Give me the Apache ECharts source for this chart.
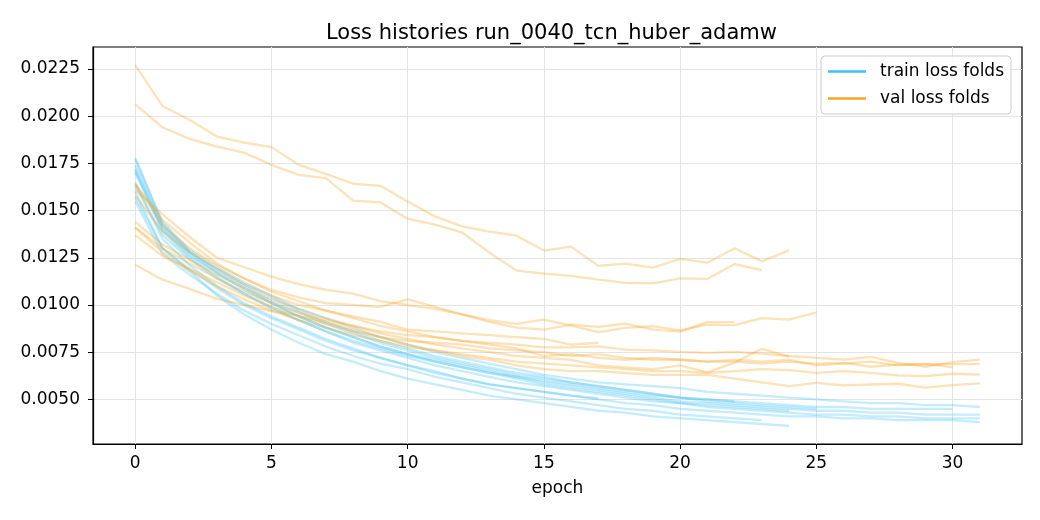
<!DOCTYPE html>
<html>
<head>
<meta charset="utf-8">
<script src="https://cdn.jsdelivr.net/npm/echarts@6/dist/echarts.min.js"></script>
<style>
html,body{margin:0;padding:0;background:#fff;}
#chart{width:1040px;height:520px;}
</style>
</head>
<body>
<div id="chart"></div>
<script>
// ---- data (one array per fold; index = epoch) ----
const trainFold1 = [0.0157,0.0130,0.0118,0.0105,0.0095,0.0087,0.0080,0.0074,0.0070,0.0065,0.0061,0.0058,0.0055,0.0052,0.0050,0.0048,0.0046,0.0044,0.0043,0.0041,0.0040,0.0039,0.0038,0.0037,0.0036];
const valFold1   = [0.0227,0.02054,0.0198,0.01892,0.0186,0.01836,0.01742,0.01694,0.01642,0.01631,0.01548,0.01469,0.01416,0.01388,0.01367,0.01288,0.01309,0.01207,0.01219,0.01198,0.01244,0.01224,0.0130,0.01231,0.01289];

const trainFold2 = [0.0155,0.0127,0.0116,0.0106,0.0097,0.0090,0.0084,0.0078,0.0073,0.0069,0.0066,0.0062,0.0059,0.0056,0.0053,0.0051,0.0049,0.0047,0.0045,0.0044,0.0042,0.0041,0.0040,0.0039];
const valFold2   = [0.02064,0.01941,0.01879,0.01839,0.01807,0.01742,0.01689,0.01672,0.01553,0.01543,0.01457,0.01425,0.01384,0.01277,0.01182,0.01166,0.01154,0.01134,0.01117,0.01115,0.01141,0.01138,0.01217,0.01185];

const trainFold3 = [0.0163,0.0137,0.0124,0.0114,0.0106,0.0098,0.0092,0.0086,0.0081,0.0077,0.0073,0.0070,0.0067,0.0064,0.0062,0.0060,0.0058,0.0056,0.0054,0.0052,0.0051,0.0049,0.0048,0.0047,0.0046,0.0045];
const valFold3   = [0.0161,0.0148,0.0136,0.0125,0.0120,0.0115,0.0111,0.0108,0.0106,0.0102,0.0100,0.0098,0.0095,0.0092,0.0090,0.00923,0.00891,0.00856,0.00879,0.00888,0.00866,0.00896,0.00893,0.0093,0.00923,0.0096];

const trainFold4 = [0.0177,0.0143,0.0128,0.0119,0.0111,0.0104,0.0097,0.0091,0.0086,0.0081,0.0077,0.0073,0.0070,0.0067,0.0064,0.0062,0.0059,0.0057,0.0055,0.0053,0.0051,0.0050,0.0049];
const valFold4   = [0.0164,0.0145,0.0133,0.0122,0.0114,0.0108,0.0104,0.0101,0.0100,0.0099,0.0103,0.0099,0.0095,0.0091,0.0088,0.0087,0.00896,0.00884,0.00902,0.0087,0.00859,0.00909,0.00909];

const trainFold5 = [0.0165,0.0135,0.0121,0.0110,0.0101,0.0094,0.0088,0.0082,0.0077,0.0072,0.0068,0.0065,0.0061,0.0058,0.0056,0.0054,0.0052,0.00505];
const valFold5   = [0.0158,0.0139,0.0128,0.0119,0.0111,0.0105,0.0100,0.0097,0.0094,0.0091,0.0087,0.0086,0.0085,0.0084,0.0083,0.0082,0.0079,0.0080];

const trainFold6 = [0.0172,0.0141,0.0127,0.0117,0.0109,0.0101,0.0094,0.0088,0.0083,0.0078,0.0074,0.0070,0.0067,0.0064,0.0061,0.0058,0.0056,0.0054,0.0052,0.0050,0.0048,0.0047,0.0046,0.0045,0.0044];
const valFold6   = [0.0144,0.0132,0.0124,0.0116,0.0109,0.0103,0.0098,0.0093,0.0089,0.0085,0.0082,0.0079,0.0077,0.0075,0.0073,0.0072,0.0071,0.0068,0.0067,0.0066,0.0068,0.00643,0.00695,0.00768,0.00727];

const trainFold7 = [0.0178,0.0144,0.0129,0.0120,0.0112,0.0105,0.0098,0.0093,0.0088,0.0083,0.0079,0.0075,0.0072,0.0069,0.0066,0.0063,0.0061,0.0059,0.0058,0.0057,0.0056,0.0054,0.0053,0.0052,0.0051,0.0050,0.0049,0.0048,0.0048,0.0047,0.0047,0.0046];
const valFold7   = [0.0141,0.0130,0.0122,0.0114,0.0107,0.0101,0.0096,0.0092,0.0089,0.0086,0.0084,0.0083,0.0081,0.0080,0.0079,0.00776,0.00776,0.00781,0.00764,0.0076,0.00752,0.00747,0.00752,0.00743,0.0073,0.0072,0.00711,0.00725,0.00694,0.00673,0.00697,0.00711];

const trainFold8 = [0.0171,0.0140,0.0126,0.0117,0.0108,0.0101,0.0094,0.0088,0.0083,0.0078,0.0074,0.0071,0.0068,0.0065,0.0062,0.0059,0.0057,0.0055,0.0053,0.0051,0.0049,0.0048,0.0047,0.0046,0.0045,0.0044,0.0044,0.0043,0.0043,0.0042,0.0042,0.0042];
const valFold8   = [0.0137,0.0126,0.0119,0.0112,0.0105,0.0099,0.0094,0.0090,0.0086,0.0083,0.0081,0.0080,0.0079,0.0077,0.0076,0.0075,0.0073,0.0074,0.0072,0.0071,0.0071,0.0070,0.0070,0.0069,0.0070,0.0069,0.00694,0.00673,0.00685,0.00685,0.00687,0.00687];

const trainFold9 = [0.0170,0.0139,0.0125,0.0115,0.0106,0.0099,0.0092,0.0086,0.0080,0.0076,0.0072,0.0068,0.0065,0.0062,0.0059,0.0057,0.0055,0.0053,0.0051,0.0049,0.0048,0.0046,0.0045,0.0044,0.0043,0.0042,0.0042,0.0041,0.0041,0.0040,0.0040,0.0040];
const valFold9   = [0.0141,0.0128,0.0118,0.0110,0.0103,0.0097,0.0092,0.0088,0.0084,0.0081,0.0078,0.0076,0.0074,0.0072,0.0070,0.0069,0.0068,0.0067,0.0066,0.0065,0.0065,0.0064,0.0065,0.0066,0.00655,0.00641,0.0065,0.00641,0.00627,0.00623,0.00636,0.00631];

const trainFold10 = [0.0160,0.0130,0.0119,0.0109,0.0100,0.0093,0.0087,0.0081,0.0076,0.0072,0.0068,0.0064,0.0061,0.0058,0.0056,0.0054,0.0052,0.0050,0.0048,0.0047,0.0045,0.0044,0.0043,0.0042,0.0041,0.0041,0.0040,0.0040,0.0039,0.0039,0.0039,0.0038];
const valFold10   = [0.01213,0.01134,0.01085,0.01032,0.0100,0.00967,0.00944,0.0091,0.0087,0.0083,0.0079,0.0076,0.0073,0.0071,0.0068,0.0066,0.0065,0.0065,0.0064,0.0063,0.0063,0.0063,0.0061,0.0059,0.0057,0.00588,0.00574,0.00579,0.00583,0.00562,0.00576,0.00585];

const trainFold11 = [0.0174,0.0142,0.0128,0.0118,0.0110,0.0102,0.0096,0.0090,0.0085,0.0080,0.0076,0.0072,0.0069,0.0066,0.0063,0.0061,0.0059,0.0057,0.0055,0.0053,0.0051,0.0050,0.0049,0.0048,0.0047,0.0046,0.0046,0.0045,0.0045,0.0045,0.0045];
const valFold11   = [0.0164,0.0142,0.0130,0.0121,0.0114,0.0107,0.0102,0.0097,0.0093,0.0089,0.0086,0.0083,0.0081,0.0079,0.0077,0.0073,0.0074,0.0072,0.0071,0.0072,0.0071,0.0070,0.0071,0.0070,0.0071,0.0068,0.0069,0.0070,0.0068,0.0069,0.0067];

const xTicks = [0, 5, 10, 15, 20, 25, 30];
const yTicks = [0.0050, 0.0075, 0.0100, 0.0125, 0.0150, 0.0175, 0.0200, 0.0225];
const legendNames = ['train loss folds', 'val loss folds'];

// ---- build chart ----
const trainFolds = [trainFold1,trainFold2,trainFold3,trainFold4,trainFold5,trainFold6,trainFold7,trainFold8,trainFold9,trainFold10,trainFold11];
const valFolds = [valFold1,valFold2,valFold3,valFold4,valFold5,valFold6,valFold7,valFold8,valFold9,valFold10,valFold11];

const TRAIN_COLOR = '#3FBFF5';
const VAL_COLOR = '#F5A623';
const FONT = 'DejaVu Sans';

function toPairs(arr){ return arr.map((v,i)=>[i,v]); }

const series = [];
trainFolds.forEach((tr, k) => {
  series.push({
    type:'line', name:'train_fold_'+(k+1), data:toPairs(tr),
    showSymbol:false, silent:true, animation:false, z:2,
    lineStyle:{color:TRAIN_COLOR, width:2.3, opacity:0.3}
  });
  series.push({
    type:'line', name:'val_fold_'+(k+1), data:toPairs(valFolds[k]),
    showSymbol:false, silent:true, animation:false, z:3,
    lineStyle:{color:VAL_COLOR, width:2.3, opacity:0.32}
  });
});
// legend-only series
series.push({type:'line', name:legendNames[0], data:[], color:TRAIN_COLOR, lineStyle:{color:TRAIN_COLOR}});
series.push({type:'line', name:legendNames[1], data:[], color:VAL_COLOR, lineStyle:{color:VAL_COLOR}});

const chart = echarts.init(document.getElementById('chart'), null, {renderer:'canvas'});
chart.setOption({
  animation:false,
  backgroundColor:'#ffffff',
  textStyle:{fontFamily:FONT},
  title:{
    text:'Loss histories run_0040_tcn_huber_adamw',
    left:321, top:18,
    textStyle:{fontFamily:FONT, fontSize:21, fontWeight:'normal', color:'#000'}
  },
  legend:{
    data:legendNames,
    orient:'vertical',
    right:29, top:56,
    icon:'rect', itemWidth:38, itemHeight:2.6, itemGap:10,
    padding:[7,7,7,7],
    backgroundColor:'rgba(255,255,255,0.85)',
    borderColor:'#cccccc', borderWidth:1, borderRadius:4,
    textStyle:{fontFamily:FONT, fontSize:17, color:'#000', padding:[0,0,0,9]}
  },
  grid:{
    left:93, right:18, top:47, bottom:76,
    show:true, borderColor:'#000', borderWidth:1.2, backgroundColor:'transparent'
  },
  xAxis:{
    type:'value', min:-1.55, max:32.55,
    name:'epoch', nameLocation:'middle', nameGap:36,
    nameTextStyle:{fontFamily:FONT, fontSize:17, color:'#000'},
    axisLine:{show:true, onZero:false, lineStyle:{color:'#000', width:1.2}},
    axisTick:{show:true, length:5, inside:false, lineStyle:{color:'#000', width:1}, customValues:xTicks},
    axisLabel:{show:true, color:'#000', fontFamily:FONT, fontSize:17, margin:11, customValues:xTicks, formatter:v=>String(v)},
    splitLine:{show:true, lineStyle:{color:'#e4e4e4', width:1}}
  },
  yAxis:{
    type:'value', min:0.00264, max:0.02366,
    axisLine:{show:true, onZero:false, lineStyle:{color:'#000', width:1.2}},
    axisTick:{show:true, length:5, inside:false, lineStyle:{color:'#000', width:1}, customValues:yTicks},
    axisLabel:{show:true, color:'#000', fontFamily:FONT, fontSize:17, margin:13, customValues:yTicks, formatter:v=>v.toFixed(4)},
    splitLine:{show:true, lineStyle:{color:'#e4e4e4', width:1}}
  },
  series:series
});
</script>
</body>
</html>
